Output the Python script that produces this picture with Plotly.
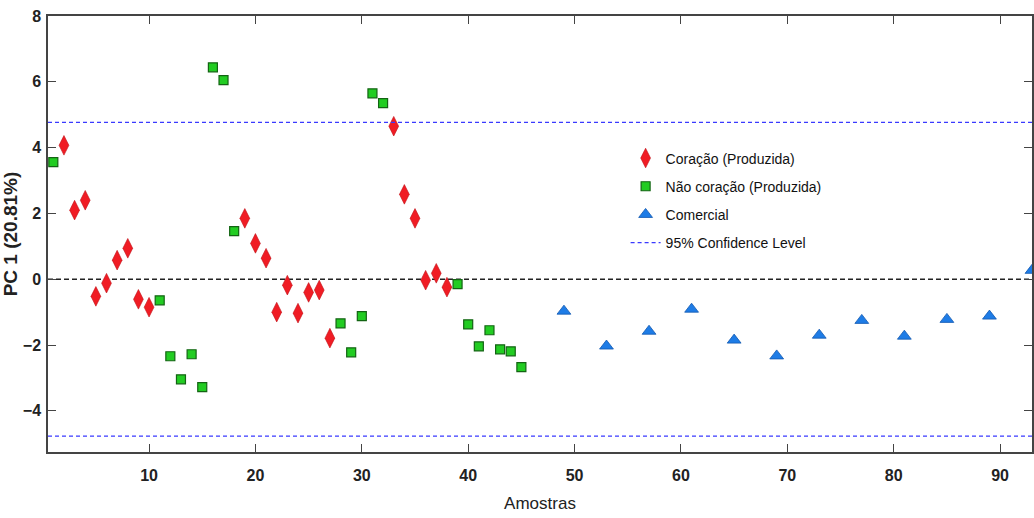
import plotly.graph_objects as go

# Coração (Produzida)
cor_x = [2, 3, 4, 5, 6, 7, 8, 9, 10, 19, 20, 21, 22, 23, 24, 25, 26, 27, 33, 34, 35, 36, 37, 38]
cor_y = [4.07, 2.10, 2.40, -0.52, -0.12, 0.58, 0.94, -0.61, -0.85, 1.85, 1.09, 0.64, -1.00, -0.18,
         -1.03, -0.40, -0.33, -1.79, 4.65, 2.58, 1.85, -0.03, 0.18, -0.24]

# Não coração (Produzida)
nao_x = [1, 11, 12, 13, 14, 15, 16, 17, 18, 28, 29, 30, 31, 32, 39, 40, 41, 42, 43, 44, 45]
nao_y = [3.56, -0.64, -2.34, -3.04, -2.28, -3.28, 6.44, 6.05, 1.46, -1.34, -2.22, -1.12, 5.65, 5.35,
         -0.15, -1.37, -2.04, -1.55, -2.13, -2.19, -2.67]

# Comercial
com_x = [49, 53, 57, 61, 65, 69, 73, 77, 81, 85, 89, 93]
com_y = [-0.97, -2.03, -1.58, -0.91, -1.85, -2.33, -1.70, -1.25, -1.73, -1.22, -1.12, 0.27]

conf_level = 4.77
x_range = [0.5, 93.0]
y_range = [-5.25, 8]
y_ticks = [-4, -2, 0, 2, 4, 6, 8]
x_ticks = [10, 20, 30, 40, 50, 60, 70, 80, 90]

FONT = "Liberation Sans, Arial, sans-serif"

fig = go.Figure()

fig.add_trace(go.Scatter(
    x=cor_x, y=cor_y, mode="markers", name="Coração (Produzida)", legendgroup="a",
    marker=dict(symbol="diamond-tall", size=14, color="#f01c24",
                line=dict(color="#c01018", width=0.6))))
fig.add_trace(go.Scatter(
    x=nao_x, y=nao_y, mode="markers", name="Não coração (Produzida)", legendgroup="b",
    marker=dict(symbol="square", size=9, color="#22cc22",
                line=dict(color="#136413", width=1.2))))
fig.add_trace(go.Scatter(
    x=com_x, y=com_y, mode="markers", name="Comercial", legendgroup="c",
    marker=dict(symbol="triangle-up", size=12, color="#1e7ce6",
                line=dict(color="#1258b0", width=0.8))))
fig.add_trace(go.Scatter(
    x=x_range, y=[conf_level, conf_level], mode="lines", name="95% Confidence Level",
    legendgroup="d", line=dict(color="#3a3aff", width=1.3, dash="4px,3px")))
fig.add_trace(go.Scatter(
    x=x_range, y=[-conf_level, -conf_level], mode="lines", showlegend=False,
    legendgroup="d", line=dict(color="#3a3aff", width=1.3, dash="4px,3px")))

fig.add_shape(type="line", xref="paper", x0=0, x1=1, yref="y", y0=0, y1=0,
              line=dict(color="#222222", width=1.3, dash="5px,3px"), layer="below")

axis_common = dict(showgrid=False, zeroline=False, showline=True, linecolor="#444444",
                   linewidth=1.5, mirror="ticks", ticks="inside", ticklen=8,
                   tickcolor="#444444", tickwidth=1.2)

fig.update_xaxes(range=x_range, tickvals=x_ticks, **axis_common, ticklabelstandoff=8,
                 tickfont=dict(family=FONT, size=16, color="#222222", weight="bold"),
                 title=dict(text="Amostras", standoff=14,
                            font=dict(family=FONT, size=17, color="#222222")))
fig.update_yaxes(range=y_range, tickvals=y_ticks, **axis_common, ticklabelstandoff=2,
                 tickfont=dict(family=FONT, size=16, color="#222222", weight="bold"),
                 title=dict(text="<b>PC 1 (20.81%)</b>", standoff=3,
                            font=dict(family=FONT, size=19, color="#222222")))

fig.update_layout(
    width=1034, height=518,
    margin=dict(l=48, r=0, t=16, b=66),
    paper_bgcolor="white", plot_bgcolor="white",
    showlegend=True,
    legend=dict(x=0.587, y=0.71, xanchor="left", yanchor="top",
                bgcolor="rgba(0,0,0,0)", borderwidth=0,
                traceorder="grouped", tracegroupgap=7,
                font=dict(family=FONT, size=14, color="#111111")),
)

fig.write_html("out.html")
